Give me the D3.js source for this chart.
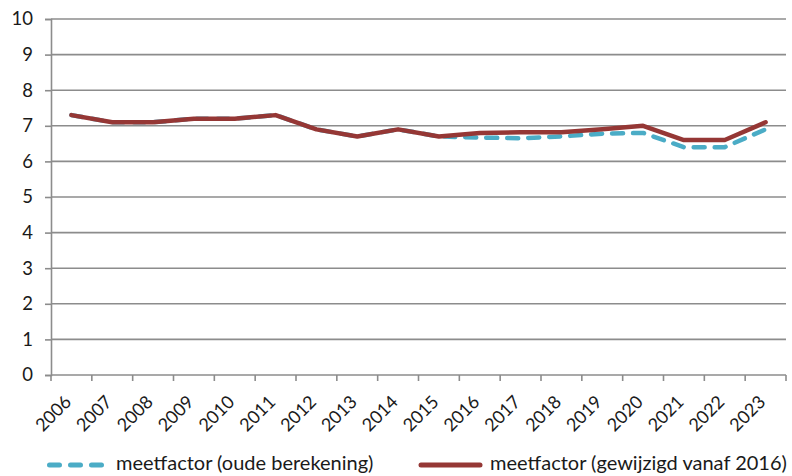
<!DOCTYPE html>
<html>
<head>
<meta charset="utf-8">
<script src="https://cdn.jsdelivr.net/npm/d3@7"></script>
<style>
  html, body { margin: 0; padding: 0; background: #fff; }
  svg { display: block; }
  text { font-family: Lato, "Liberation Sans", Arial, sans-serif; fill: #1a1a1a; }
</style>
</head>
<body>
<svg id="chart" width="792" height="476"></svg>
<script>
const years = ["2006","2007","2008","2009","2010","2011","2012","2013","2014","2015","2016","2017","2018","2019","2020","2021","2022","2023"];
const oudeBerekening = [7.3,7.1,7.1,7.2,7.2,7.3,6.9,6.7,6.9,6.7,6.67,6.65,6.7,6.78,6.8,6.4,6.4,6.9];
const gewijzigd2016 = [7.3,7.1,7.1,7.2,7.2,7.3,6.9,6.7,6.9,6.7,6.8,6.82,6.82,6.9,7.0,6.6,6.6,7.1];
const yTicks = [0,1,2,3,4,5,6,7,8,9,10];
const seriesNames = ["meetfactor (oude berekening)", "meetfactor (gewijzigd vanaf 2016)"];

const svg = d3.select("#chart");
const pLeft = 51, pRight = 786, pTop = 19, pBottom = 375;
const gridColor = "#8c8c8c";
const blue = "#4bacc6", red = "#953735";
const fontFam = "Lato, 'Liberation Sans', Arial, sans-serif";

const x = d3.scaleBand().domain(years).range([pLeft, pRight]).padding(0);
const y = d3.scaleLinear().domain([0, 10]).range([pBottom, pTop]);

// gridlines
svg.append("g").selectAll("line").data(yTicks.filter(d => d > 0)).join("line")
  .attr("x1", pLeft).attr("x2", pRight)
  .attr("y1", d => y(d)).attr("y2", d => y(d))
  .attr("stroke", gridColor).attr("stroke-width", 1.6);

// y axis
const yAxis = svg.append("g").attr("transform", `translate(${pLeft},0)`)
  .call(d3.axisLeft(y).tickValues(yTicks).tickSize(6).tickPadding(12).tickFormat(d3.format("d")));
yAxis.select(".domain").attr("stroke", gridColor).attr("stroke-width", 1.6);
yAxis.selectAll(".tick line").attr("stroke", gridColor).attr("stroke-width", 1.6);
yAxis.selectAll(".tick text").attr("font-size", 18.5).attr("fill", "#1a1a1a")
  .attr("font-family", fontFam);

// x axis: ticks at category boundaries
const xAxisG = svg.append("g");
xAxisG.append("line").attr("x1", pLeft).attr("x2", pRight).attr("y1", pBottom).attr("y2", pBottom)
  .attr("stroke", gridColor).attr("stroke-width", 1.6);
const boundaries = years.map(d => x(d)).concat([x(years[years.length - 1]) + x.bandwidth()]);
xAxisG.selectAll("line.tk").data(boundaries).join("line").attr("class", "tk")
  .attr("x1", d => d).attr("x2", d => d).attr("y1", pBottom).attr("y2", pBottom + 6)
  .attr("stroke", gridColor).attr("stroke-width", 1.6);
xAxisG.selectAll("text").data(years).join("text")
  .attr("transform", d => `translate(${x(d) + x.bandwidth() / 2 + 1},${pBottom + 28}) rotate(-45)`)
  .attr("text-anchor", "end")
  .attr("font-size", 18)
  .text(d => d);

// lines
const cx = d => x(d) + x.bandwidth() / 2;
const lineGen = d3.line().x(d => cx(d[0])).y(d => y(d[1]));

svg.append("path")
  .datum(years.map((yr, i) => [yr, oudeBerekening[i]]))
  .attr("d", lineGen)
  .attr("fill", "none").attr("stroke", blue).attr("stroke-width", 4.5)
  .attr("stroke-dasharray", "11,10").attr("stroke-linecap", "round").attr("stroke-linejoin", "round");

svg.append("path")
  .datum(years.map((yr, i) => [yr, gewijzigd2016[i]]))
  .attr("d", lineGen)
  .attr("fill", "none").attr("stroke", red).attr("stroke-width", 4.5)
  .attr("stroke-linecap", "round").attr("stroke-linejoin", "round");

// legend
const leg = svg.append("g");
leg.append("line").attr("x1", 49.5).attr("x2", 101.5).attr("y1", 465).attr("y2", 465)
  .attr("stroke", blue).attr("stroke-width", 5).attr("stroke-linecap", "round")
  .attr("stroke-dasharray", "10,11");
const t1 = leg.append("text").attr("x", 116).attr("y", 470).attr("font-size", 19).text(seriesNames[0]);
leg.append("line").attr("x1", 421).attr("x2", 480).attr("y1", 465).attr("y2", 465)
  .attr("stroke", red).attr("stroke-width", 5).attr("stroke-linecap", "round");
const t2 = leg.append("text").attr("x", 490).attr("y", 470).attr("font-size", 19).text(seriesNames[1]);

// fit legend text widths to the reference
function fit(t, w) {
  const len = t.node().getComputedTextLength();
  const fs = 19 * w / len;
  t.attr("font-size", Math.min(20, fs));
}
fit(t1, 262);
fit(t2, 297);
</script>
</body>
</html>
